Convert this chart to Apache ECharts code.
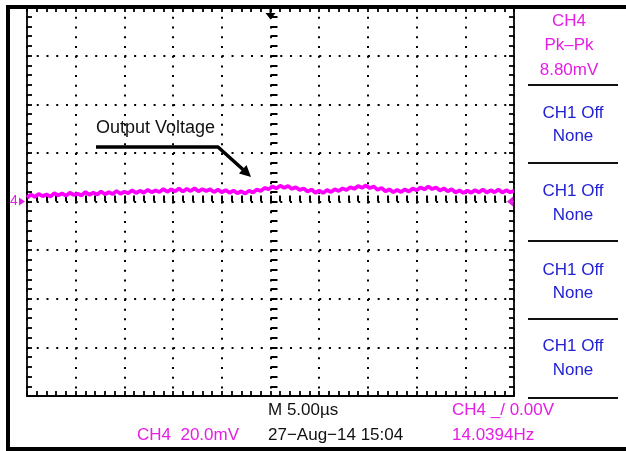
<!DOCTYPE html>
<html>
<head>
<meta charset="utf-8">
<title>CH4 Output Voltage</title>
<script src="https://cdn.jsdelivr.net/npm/echarts@6/dist/echarts.min.js"></script>
<style>
  html, body { margin: 0; padding: 0; background: #ffffff; }
  #scope { width: 626px; height: 451px; }
</style>
</head>
<body>
<div id="scope"></div>
<script>
// Acquisition: CH4 record, 0.4 µs per sample, starting at -25 µs (trigger at 0)
const SAMPLE_START_US = -25;
const SAMPLE_STEP_US = 0.4;
const ch4mV = [
  1.6, 2.8, 1.9, 3.1, 2.2, 2.9, 2.0, 3.4, 2.5, 3.3,
  2.4, 3.6, 2.7, 3.2, 2.5, 3.9, 2.8, 3.6, 2.9, 4.1,
  3.0, 3.8, 3.1, 4.3, 3.2, 4.0, 3.4, 4.6, 3.5, 4.4,
  3.6, 4.8, 3.8, 4.5, 3.9, 5.1, 4.0, 5.0, 4.2, 5.3,
  4.1, 5.2, 4.3, 5.4, 4.2, 5.1, 4.3, 5.0, 3.9, 4.9,
  3.8, 4.7, 3.6, 4.5, 3.4, 4.2, 3.3, 4.4, 3.7, 4.9,
  4.3, 5.6, 5.0, 6.2, 5.4, 6.5, 5.6, 6.4, 5.2, 5.9,
  4.7, 5.4, 4.1, 4.9, 3.6, 4.5, 3.5, 4.7, 3.9, 5.0,
  4.3, 5.4, 4.7, 5.9, 5.2, 6.4, 5.6, 6.6, 5.5, 6.2,
  4.8, 5.6, 4.2, 5.0, 3.8, 4.8, 3.9, 5.0, 4.1, 5.3,
  4.6, 5.8, 5.0, 6.1, 5.1, 5.8, 4.5, 5.4, 4.2, 5.1,
  3.7, 4.6, 3.5, 4.5, 3.6, 4.7, 3.8, 4.9, 3.7, 4.6,
  3.8, 4.9, 3.7, 4.6, 3.8, 4.4
];

// Display settings: 5 µs/div horizontally (10 div), 20 mV/div vertically (8 div)
const TIME_PER_DIV = 5;
const TIME_MIN = -25, TIME_MAX = 25;
const VOLT_PER_DIV = 20;
const VOLT_MIN = -80, VOLT_MAX = 80;
const TRIGGER_TIME = 0;
const TRIGGER_LEVEL = 0;
const GROUND_LEVEL = 0;

// Readouts
const measureLines = ['CH4', 'Pk\u2013Pk', '8.80mV'];
const channelSlots = [
  ['CH1 Off', 'None'],
  ['CH1 Off', 'None'],
  ['CH1 Off', 'None'],
  ['CH1 Off', 'None']
];
const timebaseText = 'M 5.00\u00b5s';
const triggerText = 'CH4 _/ 0.00V';
const scaleText = 'CH4  20.0mV';
const dateText = '27\u2212Aug\u221214 15:04';
const freqText = '14.0394Hz';
const annotationText = 'Output Voltage';

const FONT = '"Liberation Sans", Arial, sans-serif';
const MAGENTA = '#e41ee4';
const BLUE = '#2222d2';
const TRACE = '#ff00ff';

const PLOT = { left: 27, top: 7, width: 487, height: 389 };

const chart = echarts.init(document.getElementById('scope'), null, { renderer: 'canvas' });

const tracePoints = ch4mV.map((v, i) => [SAMPLE_START_US + i * SAMPLE_STEP_US, v]);

const borderTick = { show: true, inside: true, length: 5, lineStyle: { color: '#000', width: 1.8 } };
const borderMinor = { show: true, splitNumber: 5, length: 5, lineStyle: { color: '#000', width: 1.8 } };
const borderLine = { show: true, onZero: false, lineStyle: { color: '#000', width: 1.8 } };

function timeAxis(extra) {
  return Object.assign({
    type: 'value', min: TIME_MIN, max: TIME_MAX, interval: TIME_PER_DIV,
    axisLabel: { show: false }, splitLine: { show: false }, silent: true
  }, extra);
}
function voltAxis(extra) {
  return Object.assign({
    type: 'value', min: VOLT_MIN, max: VOLT_MAX, interval: VOLT_PER_DIV,
    axisLabel: { show: false }, splitLine: { show: false }, silent: true
  }, extra);
}

const option = {
  animation: false,
  backgroundColor: '#ffffff',
  grid: [
    // main graticule
    { left: PLOT.left, top: PLOT.top, width: PLOT.width, height: PLOT.height },
    // thin band along the horizontal centre line
    { left: PLOT.left, top: PLOT.top + PLOT.height / 2 - 3, width: PLOT.width, height: 6 },
    // thin band along the vertical centre line
    { left: PLOT.left + PLOT.width / 2 - 3.5, top: PLOT.top, width: 7, height: PLOT.height }
  ],
  xAxis: [
    timeAxis({
      gridIndex: 0, position: 'bottom',
      axisLine: borderLine, axisTick: borderTick, minorTick: borderMinor,
      splitLine: { show: true, lineStyle: { color: '#000', width: 2, type: [2, 7.73] } }
    }),
    timeAxis({ gridIndex: 0, position: 'top', axisLine: borderLine, axisTick: borderTick, minorTick: borderMinor }),
    timeAxis({
      gridIndex: 1, position: 'bottom',
      axisLine: { show: false },
      axisTick: { show: true, inside: true, length: 6, lineStyle: { color: '#000', width: 2 } },
      minorTick: { show: true, splitNumber: 5, length: 6, lineStyle: { color: '#000', width: 2 } }
    }),
    timeAxis({ gridIndex: 2, show: false })
  ],
  yAxis: [
    voltAxis({
      gridIndex: 0, position: 'left',
      axisLine: borderLine, axisTick: borderTick, minorTick: borderMinor,
      splitLine: { show: true, lineStyle: { color: '#000', width: 2, type: [2, 7.74] } }
    }),
    voltAxis({ gridIndex: 0, position: 'right', axisLine: borderLine, axisTick: borderTick, minorTick: borderMinor }),
    voltAxis({ gridIndex: 1, show: false }),
    voltAxis({
      gridIndex: 2, position: 'left',
      axisLine: { show: false },
      axisTick: { show: true, inside: true, length: 7, lineStyle: { color: '#000', width: 2 } },
      minorTick: { show: true, splitNumber: 5, length: 7, lineStyle: { color: '#000', width: 2 } }
    })
  ],
  series: [
    {
      name: 'CH4',
      type: 'line',
      xAxisIndex: 0,
      yAxisIndex: 0,
      data: tracePoints,
      showSymbol: false,
      symbol: 'none',
      z: 5,
      lineStyle: { color: TRACE, width: 3.8, join: 'bevel' }
    }
  ]
};

chart.setOption(option);

// Markers placed from the axis scales
const trigX = chart.convertToPixel({ xAxisIndex: 0 }, TRIGGER_TIME);
const gndY = chart.convertToPixel({ yAxisIndex: 0 }, GROUND_LEVEL);
const trigLvlY = chart.convertToPixel({ yAxisIndex: 0 }, TRIGGER_LEVEL);
const plotRight = PLOT.left + PLOT.width;

function textEl(str, x, y, color, align, size) {
  return {
    type: 'text', x: x, y: y, z: 20,
    style: { text: str, fill: color, font: (size || 17) + 'px ' + FONT, align: align || 'left', verticalAlign: 'middle' }
  };
}

const graphics = [];

// outer frame
graphics.push({
  type: 'polyline', z: 30,
  shape: { points: [[640, 7], [8, 7], [8, 449], [640, 449]] },
  style: { stroke: '#000', lineWidth: 4, fill: null }
});

// trigger position marker (top)
graphics.push({
  type: 'line', z: 25, shape: { x1: trigX, y1: 7, x2: trigX, y2: 14 },
  style: { stroke: '#000', lineWidth: 2 }
});
graphics.push({
  type: 'polygon', z: 25, shape: { points: [[trigX - 5, 13], [trigX + 5, 13], [trigX, 19.5]] },
  style: { fill: '#000' }
});

// CH4 ground marker (left)
graphics.push(textEl('4', 10, gndY, MAGENTA, 'left', 14));
graphics.push({
  type: 'polygon', z: 25, shape: { points: [[19, gndY - 4], [19, gndY + 4], [25, gndY]] },
  style: { fill: MAGENTA }
});

// trigger level marker (right)
graphics.push({
  type: 'polygon', z: 25, shape: { points: [[plotRight - 7, trigLvlY], [plotRight - 1, trigLvlY - 5], [plotRight - 1, trigLvlY + 5]] },
  style: { fill: MAGENTA }
});
graphics.push({
  type: 'line', z: 25, shape: { x1: plotRight - 5, y1: trigLvlY, x2: plotRight, y2: trigLvlY },
  style: { stroke: MAGENTA, lineWidth: 2 }
});

// annotation with pointer
graphics.push(textEl(annotationText, 96, 128.5, '#111', 'left', 18));
graphics.push({
  type: 'polyline', z: 20,
  shape: { points: [[96, 147], [218, 147], [243, 169.5]] },
  style: { stroke: '#000', lineWidth: 3.5, fill: null, lineJoin: 'round' }
});
graphics.push({
  type: 'polygon', z: 20,
  shape: { points: [[251, 177], [239, 173.5], [246.5, 165]] },
  style: { fill: '#000' }
});

// side panel: measurement and channel slots
const PANEL_X = 571;
const sepYs = [85, 163, 241, 319, 398];
sepYs.forEach(y => {
  graphics.push({
    type: 'line', z: 20, shape: { x1: 528, y1: y, x2: 618, y2: y },
    style: { stroke: '#111', lineWidth: 1.8 }
  });
});
const measureYs = [21, 45.5, 70];
measureLines.forEach((s, i) => graphics.push(textEl(s, PANEL_X - 2, measureYs[i], MAGENTA, 'center')));
const slotTops = [113, 191.5, 270, 346.5];
channelSlots.forEach((pair, i) => {
  graphics.push(textEl(pair[0], PANEL_X + 2, slotTops[i], BLUE, 'center'));
  graphics.push(textEl(pair[1], PANEL_X + 2, slotTops[i] + 23.5, BLUE, 'center'));
});

// bottom readouts
graphics.push(textEl(timebaseText, 268, 410, '#111'));
graphics.push(textEl(triggerText, 452, 410, MAGENTA));
graphics.push(textEl(scaleText, 137, 435, MAGENTA));
graphics.push(textEl(dateText, 268, 435, '#111'));
graphics.push(textEl(freqText, 452, 435, MAGENTA));

chart.setOption({ graphic: graphics });
</script>
</body>
</html>
